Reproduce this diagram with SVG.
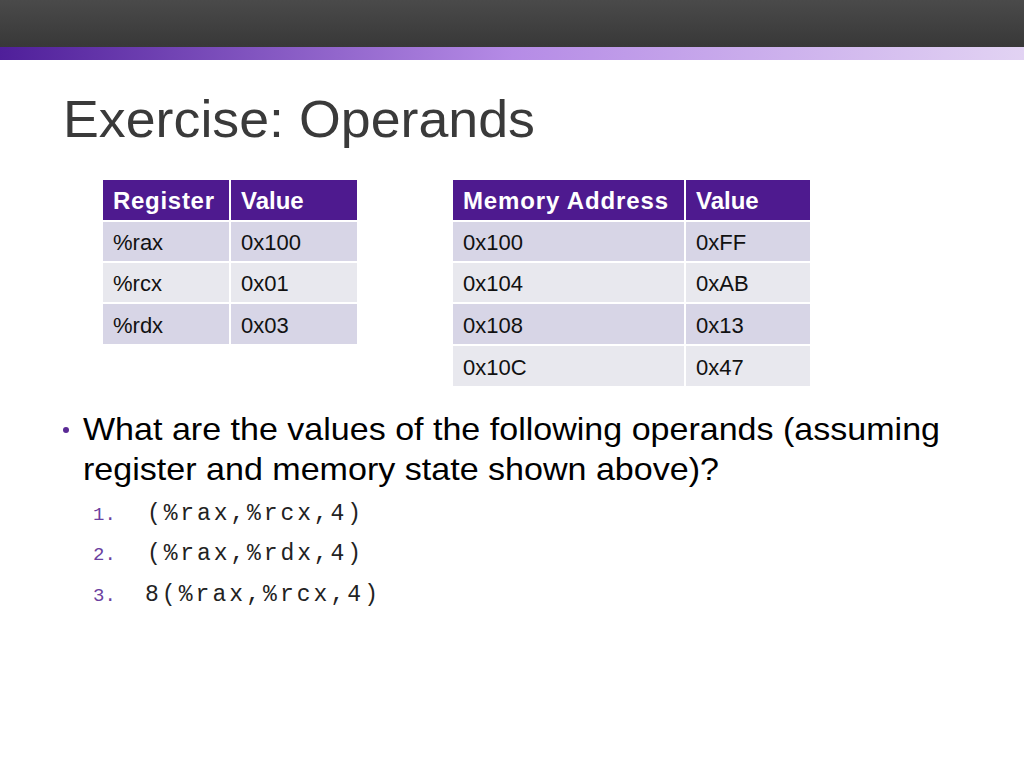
<svg xmlns="http://www.w3.org/2000/svg" width="1024" height="768" viewBox="0 0 1024 768">
<defs>
<linearGradient id="top" x1="0" y1="0" x2="0" y2="1"><stop offset="0" stop-color="#4a4a4a"/><stop offset="1" stop-color="#383838"/></linearGradient>
<linearGradient id="bar" x1="0" y1="0" x2="1" y2="0"><stop offset="0" stop-color="#4f1f9a"/><stop offset="0.5" stop-color="#b58be6"/><stop offset="1" stop-color="#e2d3f3"/></linearGradient>
<style>
.h{fill:#4e1a8f}.a{fill:#d7d5e6}.b{fill:#e8e8ee}
.ht{font-family:"Liberation Sans",Arial,sans-serif;font-size:24px;font-weight:bold;fill:#fff}
.t{font-family:"Liberation Sans",Arial,sans-serif;font-size:22px;fill:#111}
.q{font-family:"Liberation Sans",Arial,sans-serif;font-size:32px;fill:#000}
.m{font-family:"Liberation Mono","Courier New",monospace;font-size:23px;fill:#222}
.n{font-family:"Liberation Mono","Courier New",monospace;font-size:19px;fill:#6b3fa0}
</style>
</defs>
<rect width="1024" height="768" fill="#fff"/>
<rect width="1024" height="47" fill="url(#top)"/>
<rect y="47" width="1024" height="13" fill="url(#bar)"/>
<text x="63" y="137" font-family="Liberation Sans,Arial,sans-serif" font-size="52" fill="#3a3a3a" textLength="472" lengthAdjust="spacingAndGlyphs">Exercise: Operands</text>
<g id="regtable">
<rect class="h" x="103" y="180" width="126" height="40"/><rect class="h" x="231" y="180" width="126" height="40"/>
<rect class="a" x="103" y="222" width="126" height="39"/><rect class="a" x="231" y="222" width="126" height="39"/>
<rect class="b" x="103" y="263" width="126" height="39"/><rect class="b" x="231" y="263" width="126" height="39"/>
<rect class="a" x="103" y="304" width="126" height="40"/><rect class="a" x="231" y="304" width="126" height="40"/>
<text class="ht" x="113" y="209" textLength="101">Register</text><text class="ht" x="241" y="209">Value</text>
<text class="t" x="113" y="250">%rax</text><text class="t" x="241" y="250">0x100</text>
<text class="t" x="113" y="291">%rcx</text><text class="t" x="241" y="291">0x01</text>
<text class="t" x="113" y="333">%rdx</text><text class="t" x="241" y="333">0x03</text>
</g>
<g id="memtable">
<rect class="h" x="453" y="180" width="231" height="40"/><rect class="h" x="686" y="180" width="124" height="40"/>
<rect class="a" x="453" y="222" width="231" height="39"/><rect class="a" x="686" y="222" width="124" height="39"/>
<rect class="b" x="453" y="263" width="231" height="39"/><rect class="b" x="686" y="263" width="124" height="39"/>
<rect class="a" x="453" y="304" width="231" height="40"/><rect class="a" x="686" y="304" width="124" height="40"/>
<rect class="b" x="453" y="346" width="231" height="40"/><rect class="b" x="686" y="346" width="124" height="40"/>
<text class="ht" x="463" y="209" textLength="205">Memory Address</text><text class="ht" x="696" y="209">Value</text>
<text class="t" x="463" y="250">0x100</text><text class="t" x="696" y="250">0xFF</text>
<text class="t" x="463" y="291">0x104</text><text class="t" x="696" y="291">0xAB</text>
<text class="t" x="463" y="333">0x108</text><text class="t" x="696" y="333">0x13</text>
<text class="t" x="463" y="375">0x10C</text><text class="t" x="696" y="375">0x47</text>
</g>
<circle cx="66" cy="430" r="3" fill="#5a2a95"/>
<text class="q" x="83" y="440" textLength="857" lengthAdjust="spacingAndGlyphs">What are the values of the following operands (assuming</text>
<text class="q" x="83" y="480" textLength="636" lengthAdjust="spacingAndGlyphs">register and memory state shown above)?</text>
<text class="n" x="93" y="520">1.</text><text class="m" x="147" y="520" textLength="214">(%rax,%rcx,4)</text>
<text class="n" x="93" y="560">2.</text><text class="m" x="147" y="560" textLength="214">(%rax,%rdx,4)</text>
<text class="n" x="93" y="601">3.</text><text class="m" x="145" y="601" textLength="233">8(%rax,%rcx,4)</text>
</svg>
